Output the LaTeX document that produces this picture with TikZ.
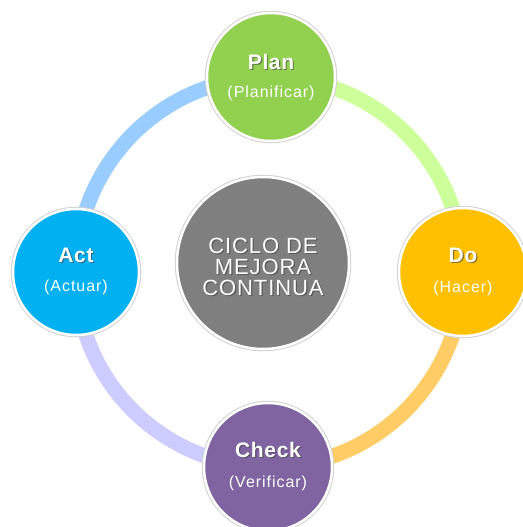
\documentclass[tikz,border=0pt]{standalone}
\usepackage{fontspec}
\setmainfont{Liberation Sans}
\newfontfamily\labfont[LetterSpace=3]{Liberation Sans}
\newfontfamily\subfont[LetterSpace=6]{Liberation Sans}
\newfontfamily\cenfont[LetterSpace=4]{Liberation Sans}
\usetikzlibrary{backgrounds}
\definecolor{plancol}{HTML}{92D050}
\definecolor{docol}{HTML}{FFC000}
\definecolor{checkcol}{HTML}{8064A2}
\definecolor{actcol}{HTML}{00B0F0}
\definecolor{cencol}{HTML}{7F7F7F}
\definecolor{arcA}{HTML}{CCFF99}
\definecolor{arcB}{HTML}{FFCC66}
\definecolor{arcC}{HTML}{CCCCFF}
\definecolor{arcD}{HTML}{99CCFF}
\definecolor{shade}{HTML}{404040}
\begin{document}
\begin{tikzpicture}[x=1pt,y=-1pt,
  phase/.style={circle, minimum size=#1, inner sep=0pt, draw=white, line width=2.5pt,
    preaction={draw=black!18, line width=4.5pt}},
  ring/.style={line width=15pt, draw=#1},
  ttl/.style={text=white, font=\labfont\fontsize{21}{21}\selectfont\bfseries, inner sep=0pt},
  ttlsh/.style={text=shade, font=\labfont\fontsize{21}{21}\selectfont\bfseries, inner sep=0pt, opacity=0.6},
  sub/.style={text=white, font=\subfont\fontsize{16}{16}\selectfont, inner sep=0pt},
  cen/.style={text=white, font=\cenfont\fontsize{22}{21}\selectfont, align=center, inner sep=0pt},
  censh/.style={text=shade, font=\cenfont\fontsize{22}{21}\selectfont, align=center, inner sep=0pt, opacity=0.6}]
\useasboundingbox (0,0) rectangle (522,527);

\node[phase=128pt, fill=plancol] (plan) at (271,77) {};
\node[phase=128pt, fill=docol] (do) at (463,272) {};
\node[phase=128pt, fill=checkcol] (check) at (268,467) {};
\node[phase=126pt, fill=actcol] (act) at (76,272) {};
\node[phase=172pt, fill=cencol] (cen) at (263,263) {};

\begin{scope}[on background layer]
  \draw[ring=arcA] (plan.center) to[bend left=45] (do.center);
  \draw[ring=arcB] (do.center) to[bend left=45] (check.center);
  \draw[ring=arcC] (check.center) to[bend left=45] (act.center);
  \draw[ring=arcD] (act.center) to[bend left=45] (plan.center);
\end{scope}

% titles (with soft shadow)
\node[ttlsh] (planTs) at ([xshift=1.2pt,yshift=14pt]plan.center) {Plan};
\node[ttl] (planT) at ([yshift=15pt]plan.center) {Plan};
\node[sub] (planS) at ([yshift=-16pt]plan.center) {(Planificar)};

\node[ttlsh] (doTs) at ([xshift=1.2pt,yshift=16pt]do.center) {Do};
\node[ttl] (doT) at ([yshift=17pt]do.center) {Do};
\node[sub] (doS) at ([yshift=-16pt]do.center) {(Hacer)};

\node[ttlsh] (checkTs) at ([xshift=1.2pt,yshift=16pt]check.center) {Check};
\node[ttl] (checkT) at ([yshift=17pt]check.center) {Check};
\node[sub] (checkS) at ([yshift=-16pt]check.center) {(Verificar)};

\node[ttlsh] (actTs) at ([xshift=1.2pt,yshift=16pt]act.center) {Act};
\node[ttl] (actT) at ([yshift=17pt]act.center) {Act};
\node[sub] (actS) at ([yshift=-15pt]act.center) {(Actuar)};

\node[censh] (cenTs) at ([xshift=1.2pt,yshift=-5.2pt]cen.center) {CICLO DE\\MEJORA\\CONTINUA};
\node[cen] (cenT) at ([yshift=-4pt]cen.center) {CICLO DE\\MEJORA\\CONTINUA};
\end{tikzpicture}
\end{document}
